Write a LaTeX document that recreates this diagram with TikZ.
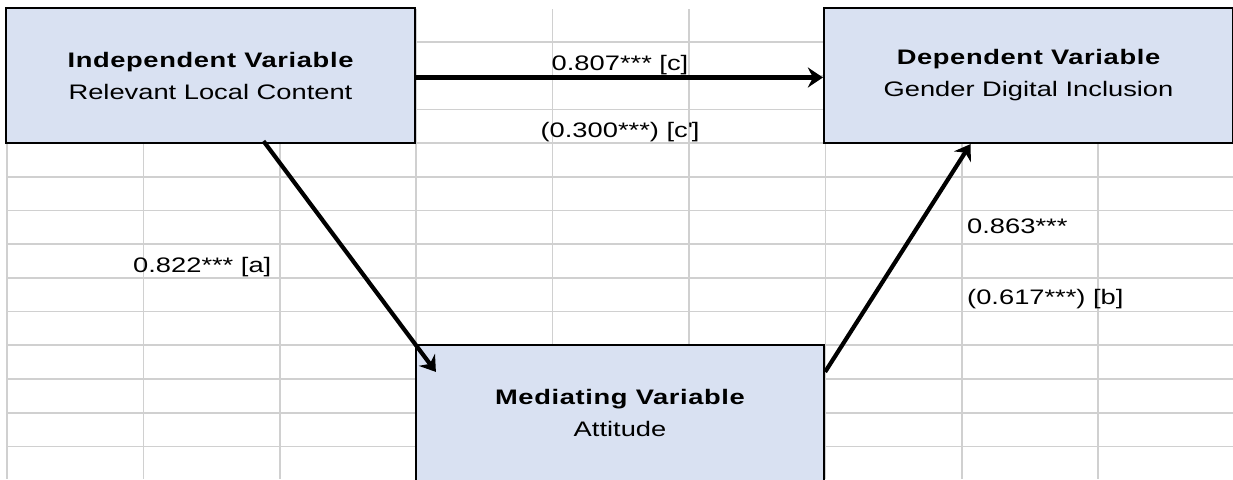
\documentclass[tikz,border=0pt]{standalone}
\usepackage{fontspec}
\setmainfont{Liberation Sans}[FakeStretch=1.3]
\usepackage{xcolor}
\usetikzlibrary{arrows.meta, positioning, calc}
\definecolor{cellgrid}{RGB}{208,208,208}
\definecolor{varfill}{RGB}{217,225,242}

\begin{document}
\begin{tikzpicture}[x=1pt, y=-1pt,
    varbox/.style={rectangle, draw=black, line width=2.2pt, fill=varfill, align=center,
        minimum width=409pt, minimum height=135pt, inner sep=0pt,
        font=\fontsize{21}{32}\selectfont},
    coef/.style={inner sep=0pt, font=\fontsize{21}{25}\selectfont},
    effect/.style={-{Stealth[length=15pt, width=20pt, inset=5pt]}, line width=4.2pt}]
    \clip (0,0) rectangle (1233,479);
    % spreadsheet grid
    \foreach \i in {0,...,8}
        \draw[cellgrid, line width=1.7pt] ({7+136.4*\i},9) -- ({7+136.4*\i},479);
    \foreach \j in {0,...,12}
        \draw[cellgrid, line width=1.7pt] (7,{42+33.7*\j}) -- (1233,{42+33.7*\j});
    % variables
    \node[varbox] (iv) at (210.5,75.5)
        {{\bfseries\addfontfeatures{LetterSpace=3}Independent Variable}\\Relevant Local Content};
    \node[varbox] (dv) at (1028.5,75.5)
        {{\bfseries\addfontfeatures{LetterSpace=3}Dependent Variable}\\Gender Digital Inclusion};
    \node[varbox, minimum width=408pt, minimum height=136pt] (mv) at (620,413)
        {{\bfseries\addfontfeatures{LetterSpace=3}Mediating Variable}\\Attitude};
    % coefficients
    \node[coef, anchor=base] (lc) at (620,70) {0.807*** [c]};
    \node[coef, anchor=base] (lcp) at (620,137) {(0.300***) [c\textquotesingle]};
    \node[coef, anchor=base west] (la) at (133,272) {0.822*** [a]};
    \node[coef, anchor=base west] (lb) at (967,233) {0.863***};
    \node[coef, anchor=base west] (lbp) at (967,304) {(0.617***) [b]};
    % paths
    \draw[effect] ([yshift=-2pt]iv.east) -- ([yshift=-2pt]dv.west);
    \draw[effect] ([xshift=53pt, yshift=3pt]iv.south) -- ([xshift=21pt, yshift=-28pt]mv.north west);
    \draw[effect] ([yshift=-28pt]mv.north east) -- ([xshift=-58pt]dv.south);
\end{tikzpicture}
\end{document}
